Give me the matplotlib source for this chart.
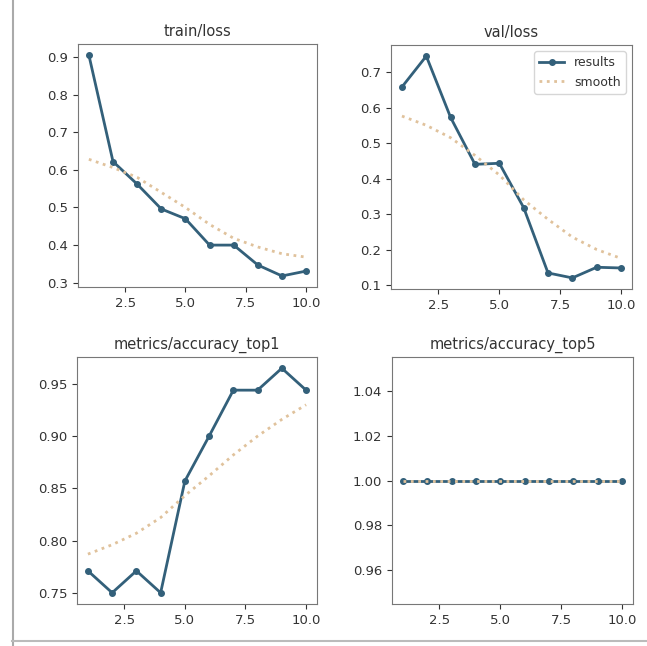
import numpy as np
import matplotlib
matplotlib.use("Agg")
import matplotlib.pyplot as plt
from matplotlib.lines import Line2D
from matplotlib.ticker import MultipleLocator, FormatStrFormatter

# epochs
epochs = [1, 2, 3, 4, 5, 6, 7, 8, 9, 10]

# values
train_loss = [0.905, 0.622, 0.562, 0.496, 0.470, 0.400, 0.400, 0.347, 0.318, 0.331]
train_loss_smooth = [0.628, 0.606, 0.580, 0.540, 0.500, 0.455, 0.418, 0.395, 0.377, 0.368]

val_loss = [0.658, 0.745, 0.572, 0.440, 0.443, 0.318, 0.134, 0.120, 0.150, 0.148]
val_loss_smooth = [0.576, 0.550, 0.515, 0.465, 0.410, 0.340, 0.285, 0.235, 0.200, 0.175]

acc_top1 = [0.771, 0.750, 0.771, 0.750, 0.857, 0.900, 0.944, 0.944, 0.965, 0.944]
acc_top1_smooth = [0.787, 0.796, 0.807, 0.822, 0.843, 0.862, 0.882, 0.900, 0.916, 0.930]

acc_top5 = [1.0, 1.0, 1.0, 1.0, 1.0, 1.0, 1.0, 1.0, 1.0, 1.0]
acc_top5_smooth = [1.0, 1.0, 1.0, 1.0, 1.0, 1.0, 1.0, 1.0, 1.0, 1.0]

titles = ["train/loss", "val/loss", "metrics/accuracy_top1", "metrics/accuracy_top5"]
series = [(train_loss, train_loss_smooth), (val_loss, val_loss_smooth),
          (acc_top1, acc_top1_smooth), (acc_top5, acc_top5_smooth)]

W, H = 647, 646
# axes boxes in pixels: left, top, right, bottom
boxes = [(78, 44, 317, 287), (391, 45, 632, 289),
         (77, 357, 317, 604), (392, 357, 633, 604)]

c_res = "#33607a"
c_smooth = "#e0c29c"
c_text = "#333333"
c_edge = "#777777"

fig = plt.figure(figsize=(W / 100, H / 100), dpi=100)

# screenshot frame
fig.add_artist(Line2D([12.5 / W, 12.5 / W], [0, 1], color="#aaaaaa", lw=1.5))
fig.add_artist(Line2D([12 / W, 1], [1 - 641 / H, 1 - 641 / H], color="#bbbbbb", lw=1.5))

for (l, t, r, b), title, (y, ys) in zip(boxes, titles, series):
    ax = fig.add_axes([l / W, 1 - b / H, (r - l) / W, (b - t) / H])
    ax.plot(epochs, y, marker=".", label="results", linewidth=2, markersize=8, color=c_res)
    ax.plot(epochs, ys, ":", label="smooth", linewidth=2, color=c_smooth)
    ax.set_title(title, fontsize=10.5, color=c_text)
    ax.xaxis.set_major_locator(MultipleLocator(2.5))
    ax.xaxis.set_major_formatter(FormatStrFormatter("%.1f"))
    ax.tick_params(labelsize=9.5, colors=c_text)
    for s in ax.spines.values():
        s.set_color(c_edge)
    if title == "val/loss":
        leg = ax.legend(fontsize=9, loc="upper right")
        for txt in leg.get_texts():
            txt.set_color(c_text)

fig.savefig("out.png", dpi=100)
